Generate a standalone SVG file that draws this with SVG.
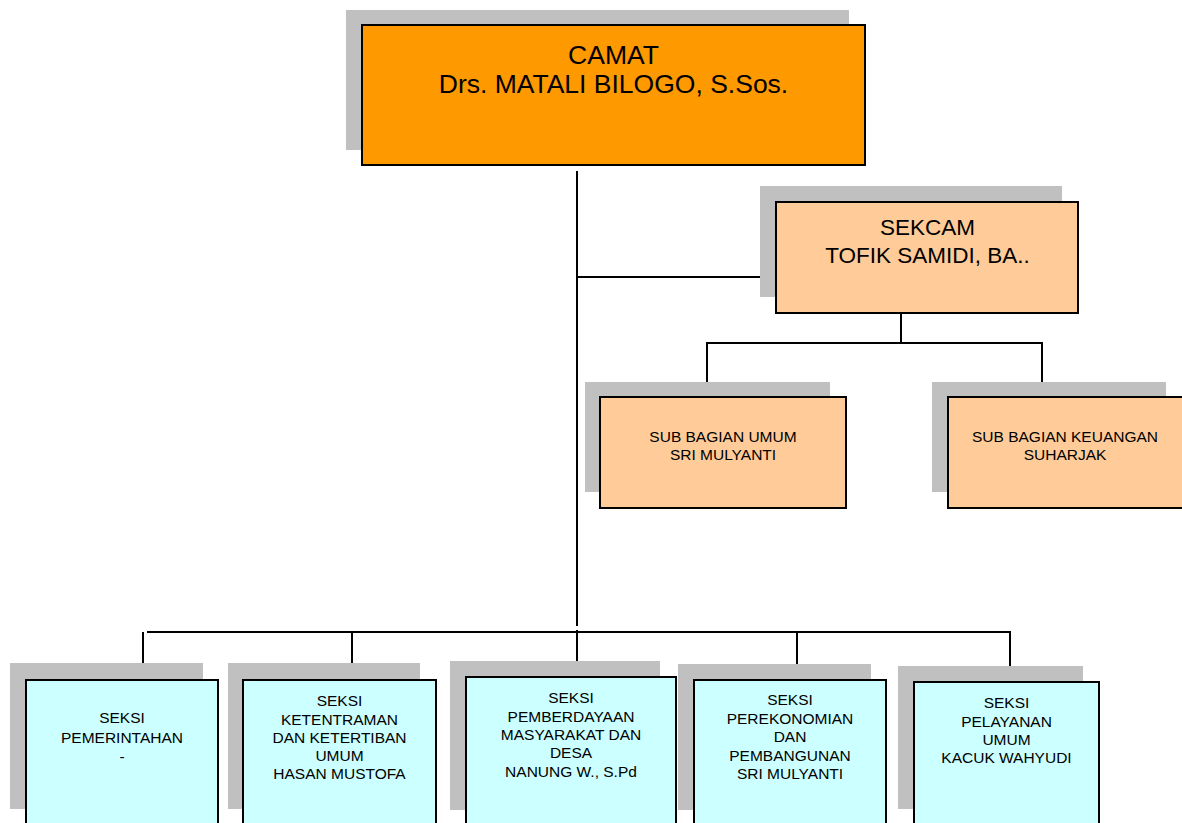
<svg xmlns="http://www.w3.org/2000/svg" width="1182" height="823" viewBox="0 0 1182 823">
<style>
.sh{fill:#c0c0c0;stroke:none}
.bx{stroke:#000;stroke-width:2}
.o{fill:#ff9900}
.p{fill:#ffcc99}
.c{fill:#ccffff}
text{font-family:"Liberation Sans",Arial,sans-serif;text-anchor:middle;fill:#000}
.t1{font-size:26.5px}
.t2{font-size:22.5px}
.t3{font-size:15.5px}
.ln{stroke:#000;stroke-width:2;fill:none}
</style>
<rect width="1182" height="823" fill="#fff"/>
<g id="connectors">
<line class="ln" x1="577" y1="171" x2="577" y2="626"/>
<line class="ln" x1="576" y1="277" x2="760" y2="277"/>
<line class="ln" x1="901" y1="313" x2="901" y2="343"/>
<line class="ln" x1="706" y1="343" x2="1043" y2="343"/>
<line class="ln" x1="707" y1="343" x2="707" y2="395"/>
<line class="ln" x1="1042" y1="343" x2="1042" y2="395"/>
<line class="ln" x1="147" y1="632" x2="1011" y2="632"/>
<line class="ln" x1="143" y1="632" x2="143" y2="680"/>
<line class="ln" x1="352" y1="632" x2="352" y2="680"/>
<line class="ln" x1="577" y1="630" x2="577" y2="677"/>
<line class="ln" x1="797" y1="632" x2="797" y2="680"/>
<line class="ln" x1="1010" y1="631" x2="1010" y2="671"/>
</g>
<g id="camat">
<rect class="sh" x="346" y="10" width="503" height="140"/>
<rect class="bx o" x="362" y="25" width="503" height="140"/>
<text class="t1" x="613.5" y="63.5">CAMAT</text>
<text class="t1" x="613.5" y="93">Drs. MATALI BILOGO, S.Sos.</text>
</g>
<g id="sekcam">
<rect class="sh" x="760" y="186" width="302" height="111"/>
<rect class="bx p" x="776" y="202" width="302" height="111"/>
<text class="t2" x="927.5" y="235">SEKCAM</text>
<text class="t2" x="927.5" y="263">TOFIK SAMIDI, BA..</text>
</g>
<g id="subumum">
<rect class="sh" x="585" y="382" width="245" height="110"/>
<rect class="bx p" x="600" y="397" width="246" height="111"/>
<text class="t3" x="723" y="442">SUB BAGIAN UMUM</text>
<text class="t3" x="723" y="460">SRI MULYANTI</text>
</g>
<g id="subkeuangan">
<rect class="sh" x="932" y="382" width="234" height="110"/>
<rect class="bx p" x="948" y="397" width="240" height="111"/>
<text class="t3" x="1065" y="442">SUB BAGIAN KEUANGAN</text>
<text class="t3" x="1065" y="460">SUHARJAK</text>
</g>
<g id="seksi1">
<rect class="sh" x="10" y="663" width="193" height="146"/>
<rect class="bx c" x="26" y="680" width="192" height="160"/>
<text class="t3" x="122" y="723">SEKSI</text>
<text class="t3" x="122" y="742.5">PEMERINTAHAN</text>
<text class="t3" x="122" y="762">-</text>
</g>
<g id="seksi2">
<rect class="sh" x="228" y="663" width="192" height="146"/>
<rect class="bx c" x="243" y="680" width="193" height="160"/>
<text class="t3" x="339.5" y="706">SEKSI</text>
<text class="t3" x="339.5" y="724.5">KETENTRAMAN</text>
<text class="t3" x="339.5" y="743">DAN KETERTIBAN</text>
<text class="t3" x="339.5" y="761">UMUM</text>
<text class="t3" x="339.5" y="779">HASAN MUSTOFA</text>
</g>
<g id="seksi3">
<rect class="sh" x="450" y="661" width="210" height="149"/>
<rect class="bx c" x="466" y="677" width="210" height="160"/>
<text class="t3" x="571" y="702.7">SEKSI</text>
<text class="t3" x="571" y="721.5">PEMBERDAYAAN</text>
<text class="t3" x="571" y="739.5">MASYARAKAT DAN</text>
<text class="t3" x="571" y="758">DESA</text>
<text class="t3" x="571" y="776.7">NANUNG W., S.Pd</text>
</g>
<g id="seksi4">
<rect class="sh" x="678" y="664" width="193" height="146"/>
<rect class="bx c" x="694" y="680" width="192" height="160"/>
<text class="t3" x="790" y="705">SEKSI</text>
<text class="t3" x="790" y="723.7">PEREKONOMIAN</text>
<text class="t3" x="790" y="742">DAN</text>
<text class="t3" x="790" y="760.7">PEMBANGUNAN</text>
<text class="t3" x="790" y="779">SRI MULYANTI</text>
</g>
<g id="seksi5">
<rect class="sh" x="898" y="666" width="185" height="143"/>
<rect class="bx c" x="914" y="682" width="185" height="160"/>
<text class="t3" x="1006.5" y="708.3">SEKSI</text>
<text class="t3" x="1006.5" y="726.7">PELAYANAN</text>
<text class="t3" x="1006.5" y="745">UMUM</text>
<text class="t3" x="1006.5" y="763.3">KACUK WAHYUDI</text>
</g>
</svg>
